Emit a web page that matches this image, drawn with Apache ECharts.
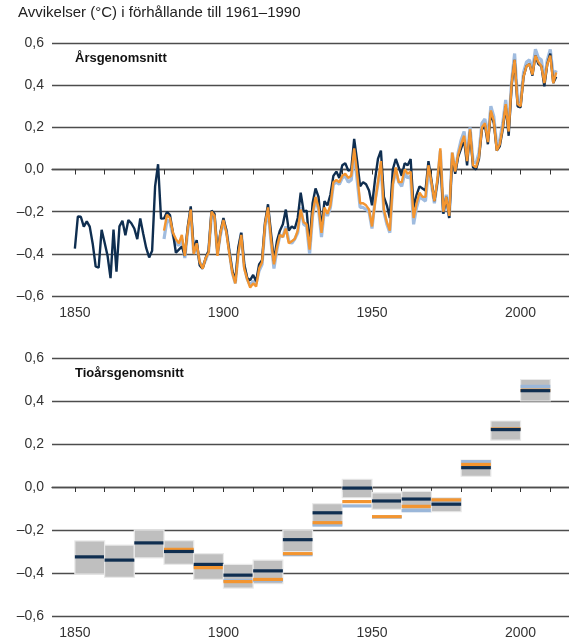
<!DOCTYPE html>
<html>
<head>
<meta charset="utf-8">
<script src="https://cdn.jsdelivr.net/npm/echarts@6/dist/echarts.min.js"></script>
<style>html,body{margin:0;padding:0;background:#fff}#c{width:569px;height:644px}</style>
</head>
<body>
<div id="c"></div>
<script>
// ---- Data ----
const yearsNavyStart = 1850;
const navyAnnual = [
-0.375,-0.223,-0.224,-0.271,-0.246,-0.271,-0.352,-0.460,-0.466,-0.286,
-0.346,-0.409,-0.515,-0.285,-0.485,-0.270,-0.243,-0.312,-0.240,-0.255,
-0.280,-0.330,-0.232,-0.305,-0.372,-0.417,-0.385,-0.080,0.025,-0.233,
-0.232,-0.201,-0.216,-0.300,-0.395,-0.380,-0.365,-0.410,-0.270,-0.175,
-0.380,-0.335,-0.455,-0.470,-0.420,-0.385,-0.195,-0.210,-0.400,-0.295,
-0.230,-0.290,-0.390,-0.480,-0.530,-0.370,-0.300,-0.450,-0.515,-0.525,
-0.500,-0.530,-0.450,-0.430,-0.250,-0.165,-0.300,-0.435,-0.340,-0.290,
-0.260,-0.190,-0.290,-0.270,-0.280,-0.230,-0.110,-0.200,-0.195,-0.360,
-0.160,-0.090,-0.130,-0.280,-0.150,-0.170,-0.120,-0.030,-0.010,-0.040,
0.020,0.030,-0.005,0.000,0.145,0.040,-0.080,-0.060,-0.070,-0.100,
-0.170,-0.050,0.050,0.090,-0.130,-0.170,-0.230,0.000,0.050,0.010,
-0.030,0.030,0.020,0.050,-0.180,-0.120,-0.080,-0.090,-0.100,0.040,
-0.050,-0.150,-0.060,0.050,-0.210,-0.130,-0.230,0.060,-0.020,0.060,
0.100,0.140,0.020,0.180,0.010,0.000,0.050,0.190,0.210,0.120,
0.270,0.220,0.090,0.110,0.190,0.300,0.160,0.400,0.520,0.300,
0.295,0.440,0.490,0.500,0.445,0.540,0.500,0.490,0.395,0.500,
0.550,0.410,0.440];
const yearsOtherStart = 1880;
const orangeAnnual = [
-0.290,-0.215,-0.230,-0.300,-0.330,-0.350,-0.310,-0.410,-0.280,-0.190,
-0.400,-0.350,-0.440,-0.470,-0.420,-0.395,-0.200,-0.220,-0.410,-0.300,
-0.240,-0.300,-0.400,-0.490,-0.540,-0.400,-0.310,-0.470,-0.520,-0.560,
-0.540,-0.555,-0.470,-0.440,-0.260,-0.180,-0.330,-0.450,-0.370,-0.310,
-0.320,-0.280,-0.350,-0.340,-0.330,-0.290,-0.190,-0.250,-0.260,-0.380,
-0.210,-0.130,-0.180,-0.300,-0.180,-0.210,-0.170,-0.060,-0.050,-0.060,
-0.030,-0.020,-0.040,-0.030,0.100,-0.020,-0.160,-0.160,-0.170,-0.190,
-0.270,-0.160,-0.060,0.040,-0.190,-0.250,-0.290,-0.070,0.010,-0.060,
-0.060,0.000,-0.020,-0.010,-0.230,-0.160,-0.110,-0.130,-0.130,0.020,
-0.060,-0.150,-0.050,0.100,-0.200,-0.130,-0.220,0.080,-0.010,0.070,
0.120,0.160,0.040,0.190,0.020,0.010,0.060,0.200,0.220,0.130,
0.280,0.230,0.090,0.120,0.200,0.310,0.180,0.410,0.520,0.310,
0.300,0.440,0.490,0.500,0.450,0.540,0.510,0.490,0.410,0.500,
0.540,0.410,0.460];
const blueAnnual = [
-0.330,-0.240,-0.250,-0.310,-0.350,-0.360,-0.330,-0.420,-0.290,-0.200,
-0.400,-0.360,-0.440,-0.460,-0.430,-0.390,-0.210,-0.230,-0.400,-0.310,
-0.250,-0.290,-0.390,-0.490,-0.540,-0.390,-0.300,-0.460,-0.520,-0.550,
-0.530,-0.540,-0.480,-0.450,-0.270,-0.190,-0.340,-0.470,-0.380,-0.310,
-0.320,-0.270,-0.340,-0.350,-0.330,-0.300,-0.180,-0.260,-0.270,-0.400,
-0.220,-0.140,-0.190,-0.320,-0.190,-0.220,-0.180,-0.070,-0.060,-0.070,
-0.040,-0.030,-0.060,-0.050,0.080,-0.050,-0.180,-0.180,-0.190,-0.200,
-0.280,-0.150,-0.070,0.020,-0.200,-0.260,-0.300,-0.070,-0.010,-0.060,
-0.080,-0.020,-0.040,-0.030,-0.260,-0.180,-0.130,-0.140,-0.150,0.000,
-0.070,-0.160,-0.060,0.090,-0.210,-0.120,-0.230,0.080,-0.010,0.080,
0.140,0.180,0.060,0.200,0.040,0.030,0.080,0.220,0.240,0.150,
0.300,0.250,0.110,0.140,0.220,0.330,0.200,0.420,0.550,0.330,
0.320,0.460,0.510,0.520,0.470,0.570,0.530,0.520,0.420,0.520,
0.570,0.440,0.470];

const decadeStarts = [1850,1860,1870,1880,1890,1900,1910,1920,1930,1940,1950,1960,1970,1980,1990,2000];
const navyDecadal   = [-0.325,-0.34,-0.26,-0.30,-0.36,-0.41,-0.39,-0.245,-0.12,-0.005,-0.065,-0.056,-0.08,0.09,0.267,0.448];
const orangeDecadal = [null,null,null,-0.29,-0.375,-0.44,-0.43,-0.31,-0.166,-0.068,-0.138,-0.09,-0.06,0.105,0.27,0.45];
const blueDecadal   = [null,null,null,-0.295,-0.37,-0.435,-0.435,-0.315,-0.177,-0.088,-0.14,-0.11,-0.065,0.118,0.27,0.468];
const lowDecadal    = [-0.405,-0.42,-0.33,-0.36,-0.43,-0.47,-0.45,-0.30,-0.18,-0.05,-0.104,-0.115,-0.115,0.05,0.218,0.40];
const highDecadal   = [-0.251,-0.27,-0.20,-0.25,-0.31,-0.36,-0.34,-0.20,-0.078,0.036,-0.027,-0.02,-0.05,0.125,0.307,0.50];

const xTickValues = [1850,1860,1870,1880,1890,1900,1910,1920,1930,1940,1950,1960,1970,1980,1990,2000,2010];
const xLabelValues = [1850,1900,1950,2000];

const titleText = 'Avvikelser (°C) i förhållande till 1961–1990';
const panel1Title = 'Årsgenomsnitt';
const panel2Title = 'Tioårsgenomsnitt';

// ---- Chart ----
const NAVY = '#0f2e50', ORANGE = '#f39530', BLUE = '#a0bcdf', GRID = '#4d4d4d';
const FONT = '"Liberation Sans", Arial, sans-serif';

function toPairs(start, arr){ return arr.map((v,i)=>[start+i, v]); }
function fmtY(v){
  if (Math.abs(v) < 1e-9) return '0,0';
  const s = Math.abs(v).toFixed(1).replace('.', ',');
  return (v < 0 ? '–' : '') + s;
}
function fmtX(v){ return String(Math.round(v)); }

const decData = decadeStarts.map((d,i)=>[d, navyDecadal[i], orangeDecadal[i], blueDecadal[i], lowDecadal[i], highDecadal[i]]);

function xAxisCfg(gi){
  return {
    type:'value', gridIndex:gi, min:1842.3, max:2016.3,
    splitLine:{show:false},
    axisLine:{show:true, lineStyle:{color:GRID, width:1.3}},
    axisTick:{show:true, customValues:xTickValues, length:5, lineStyle:{color:'#333', width:1}},
    axisLabel:{show:true, customValues:xLabelValues, formatter:fmtX, fontSize:14, color:'#333', margin:10, fontFamily:FONT},
  };
}
function yAxisCfg(gi){
  return {
    type:'value', gridIndex:gi, min:-0.6, max:0.6, interval:0.2,
    axisLine:{show:false}, axisTick:{show:false},
    splitLine:{show:true, lineStyle:{color:GRID, width:1.3}},
    axisLabel:{formatter:fmtY, fontSize:14, color:'#333', margin:8, fontFamily:FONT},
  };
}

const chart = echarts.init(document.getElementById('c'), null, {renderer:'canvas'});
chart.setOption({
  animation:false,
  backgroundColor:'#fff',
  grid:[
    {left:52, top:43, width:517, height:253},
    {left:52, top:358, width:517, height:258}
  ],
  xAxis:[xAxisCfg(0), xAxisCfg(1)],
  yAxis:[yAxisCfg(0), yAxisCfg(1)],
  graphic:[
    {type:'text', left:18, top:5, style:{text:titleText, fontSize:15, fill:'#222', fontFamily:FONT}},
    {type:'text', left:75, top:52, style:{text:panel1Title, fontSize:13, fontWeight:'bold', fill:'#111', fontFamily:FONT}},
    {type:'text', left:75, top:367, style:{text:panel2Title, fontSize:13, fontWeight:'bold', fill:'#111', fontFamily:FONT}}
  ],
  series:[
    {type:'line', xAxisIndex:0, yAxisIndex:0, data:toPairs(yearsOtherStart, blueAnnual), showSymbol:false, z:2,
     lineStyle:{color:BLUE, width:3.2}},
    {type:'line', xAxisIndex:0, yAxisIndex:0, data:toPairs(yearsNavyStart, navyAnnual), showSymbol:false, z:3,
     lineStyle:{color:NAVY, width:2.4}},
    {type:'line', xAxisIndex:0, yAxisIndex:0, data:toPairs(yearsOtherStart, orangeAnnual), showSymbol:false, z:4,
     lineStyle:{color:ORANGE, width:2.4}},
    {type:'custom', xAxisIndex:1, yAxisIndex:1, data:decData, z:3,
     renderItem:function(params, api){
       const d0 = api.value(0);
       const p1 = api.coord([d0, api.value(5)]);
       const p2 = api.coord([d0+10, api.value(4)]);
       const children = [{
         type:'rect', shape:{x:p1[0], y:p1[1], width:p2[0]-p1[0], height:p2[1]-p1[1]},
         style:{fill:'#bfbfbf', stroke:'#e9e9e9', lineWidth:1.2}
       }];
       const bar = (idx, color) => {
         const v = api.value(idx);
         if (v === null || v === undefined || isNaN(v)) return;
         const a = api.coord([d0, v]);
         children.push({type:'rect', shape:{x:p1[0], y:a[1]-1.6, width:p2[0]-p1[0], height:3.2}, style:{fill:color}});
       };
       bar(3, '#9bb7d9');
       bar(2, ORANGE);
       bar(1, NAVY);
       return {type:'group', children:children};
     }}
  ]
});
</script>
</body>
</html>
